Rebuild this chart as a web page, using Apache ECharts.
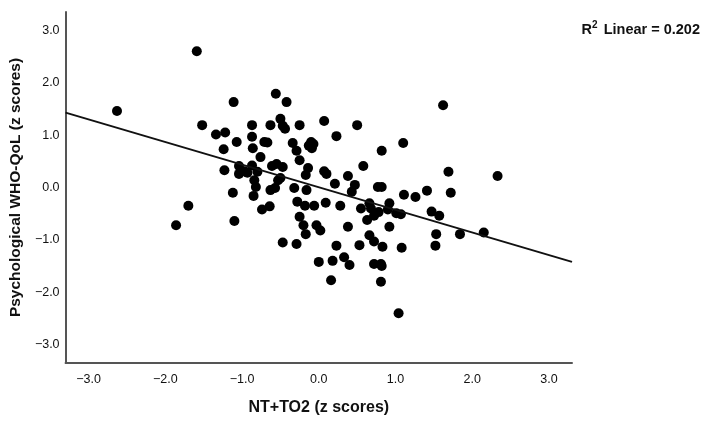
<!DOCTYPE html>
<html>
<head>
<meta charset="utf-8">
<script src="https://cdn.jsdelivr.net/npm/echarts@6/dist/echarts.min.js"></script>
<style>
  html, body { margin: 0; padding: 0; background: #fff; }
  #chart { width: 712px; height: 421px; }
</style>
</head>
<body>
<div id="chart"></div>
<script>
// NT+TO2 z score, Psychological WHO-QoL z score
const ntScores = [
  -2.63, -1.59, -1.11, -1.52, -1.34, -1.22, -1.24, -1.23, -1.07, -1.04,
  -1.04, -0.97, -0.93, -1.12, -1.70, -1.86, -1.10, -0.87, -0.87, -0.86,
  -0.87, -0.84, -0.82, -0.85, -0.80, -0.76, -0.71, -0.67, -0.74, -0.64,
  -0.63, -0.56, -0.61, -0.55, -0.63, -0.57, -0.50, -0.53, -0.50, -0.47,
  -0.42, -0.47, -0.47, -0.34, -0.29, -0.25, -0.25, -0.32, -0.28, -0.25,
  -0.20, -0.17, -0.29, -0.18, -0.17, -0.14, -0.16, -0.13, -0.10, -0.07,
  -0.09, -0.06, -0.03, 0.02, 0.00, 0.07, 0.07, 0.10, 0.09, 0.18,
  0.16, 0.21, 0.23, 0.23, 0.28, 0.33, 0.38, 0.38, 0.40, 0.43,
  0.47, 0.50, 0.53, 0.55, 0.58, 0.63, 0.66, 0.66, 0.72, 0.72,
  0.72, 0.77, 0.78, 0.82, 0.82, 0.81, 0.81, 0.83, 0.90, 0.92,
  0.92, 1.01, 1.07, 1.04, 1.08, 1.10, 1.11, 1.26, 1.41, 1.47,
  1.57, 1.53, 1.52, 1.62, 1.69, 1.72, 1.84, 2.15, 2.33, 0.68,
  0.82, -0.44
]
const qolScores = [
  1.46, 2.60, 1.63, 1.19, 1.01, 1.05, 0.73, 0.33, 0.87, 0.41,
  0.26, 0.31, 0.28, -0.10, -0.35, -0.72, -0.64, 1.19, 0.97, 0.75,
  0.42, 0.14, 0.01, -0.16, 0.30, 0.58, 0.87, 0.86, -0.42, -0.36,
  1.19, 1.79, 0.41, 0.45, -0.05, -0.01, 0.18, 0.14, 1.31, 1.18,
  1.63, 0.39, -1.05, 0.85, 0.70, 1.19, 0.52, -0.01, -0.27, -0.56,
  -0.72, -0.89, -1.08, -0.35, 0.24, 0.37, -0.05, 0.80, 0.87, 0.83,
  0.75, -0.35, -0.72, -0.82, -1.42, 1.27, 0.31, 0.26, -0.29, -1.40,
  -1.77, 0.07, 0.98, -1.11, -0.35, -1.33, -0.75, 0.22, -1.48, -0.08,
  0.05, 1.19, -1.10, -0.40, 0.41, -0.62, -0.30, -0.91, -0.54, -1.03,
  -1.46, 0.01, -0.47, 0.01, 0.70, -1.46, -1.80, -1.13, -0.42, -0.30,
  -0.75, -0.49, -0.51, -2.40, -1.15, 0.85, -0.14, -0.18, -0.06, -0.46,
  -0.54, -0.89, -1.11, 1.57, 0.30, -0.10, -0.89, -0.86, 0.22, -0.40,
  -1.50, 1.12
]
// fit line end points
const fitX = [-3.3, 3.3]
const fitY = [1.43, -1.42]
const tickValues = [-3, -2, -1, 0, 1, 2, 3]

const points = ntScores.map((x, i) => [x, qolScores[i]])
const fitLine = fitX.map((x, i) => [x, fitY[i]])

const fmt = v => v.toFixed(1).replace('-', '\u2212')

const font = 'Liberation Sans, Arial, sans-serif'

const chart = echarts.init(document.getElementById('chart'))
chart.setOption({
  animation: false,
  backgroundColor: '#fff',
  title: {
    right: 7,
    top: 15,
    text: '{b|R}{s|2}{b| Linear = 0.202}',
    textStyle: {
      rich: {
        b: { fontFamily: font, fontWeight: 'bold', fontSize: 14.5, color: '#111', verticalAlign: 'bottom' },
        s: { fontFamily: font, fontWeight: 'bold', fontSize: 10, color: '#111', verticalAlign: 'top', padding: [0, 2, 7, 0] }
      }
    }
  },
  grid: { left: 63, right: 140, top: 12, bottom: 58 },
  xAxis: {
    type: 'value',
    min: -3.3,
    max: 3.3,
    name: 'NT+TO2 (z scores)',
    nameLocation: 'middle',
    nameGap: 37,
    nameTextStyle: { fontFamily: font, fontWeight: 'bold', fontSize: 16, color: '#111' },
    splitLine: { show: false },
    axisLine: { onZero: false, lineStyle: { color: '#555', width: 2 } },
    axisTick: { show: false, customValues: tickValues },
    axisLabel: {
      customValues: tickValues,
      formatter: fmt,
      margin: 10,
      fontFamily: font,
      fontSize: 12.5,
      color: '#111'
    }
  },
  yAxis: {
    type: 'value',
    min: -3.35,
    max: 3.35,
    name: 'Psychological WHO-QoL (z scores)',
    nameLocation: 'middle',
    nameGap: 33,
    nameTextStyle: { fontFamily: font, fontWeight: 'bold', fontSize: 15.5, color: '#111' },
    splitLine: { show: false },
    axisLine: { show: true, onZero: false, lineStyle: { color: '#555', width: 2 } },
    axisTick: { show: false, customValues: tickValues },
    axisLabel: {
      customValues: tickValues,
      formatter: fmt,
      margin: 6,
      fontFamily: font,
      fontSize: 12.5,
      color: '#111'
    }
  },
  series: [
    {
      type: 'scatter',
      data: points,
      symbolSize: 10,
      itemStyle: { color: '#000', opacity: 1 }
    },
    {
      type: 'line',
      data: fitLine,
      showSymbol: false,
      lineStyle: { color: '#111', width: 2 },
      z: 3
    }
  ]
})
</script>
</body>
</html>
